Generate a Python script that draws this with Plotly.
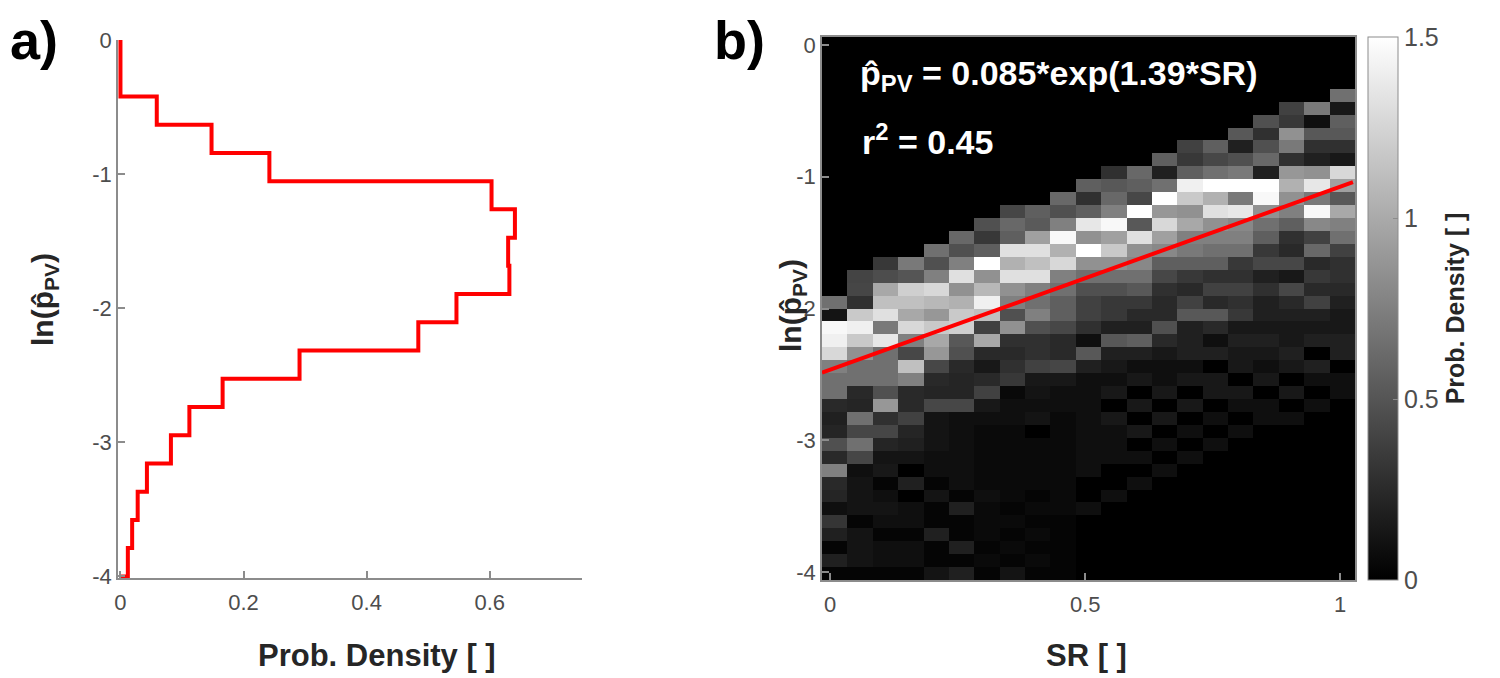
import numpy as np
import plotly.graph_objects as go

# ---------------- data: panel a (histogram of ln(p_PV)) ----------------
hist_edges = [0.0, -0.211, -0.421, -0.632, -0.842, -1.053, -1.263, -1.474, -1.684, -1.895,
              -2.105, -2.316, -2.526, -2.737, -2.947, -3.158, -3.368, -3.579, -3.789, -4.0]
hist_density = [0.0, 0.0, 0.059, 0.148, 0.242, 0.603, 0.641, 0.630, 0.632, 0.546,
                0.484, 0.291, 0.166, 0.112, 0.082, 0.043, 0.028, 0.019, 0.012]

# ---------------- data: panel b (2-D density) ----------------
sr_edges = np.linspace(-0.016, 1.029, 22)        # 21 SR bins
ln_edges = np.linspace(0.06, -4.06, 43)          # 42 ln(p) bins (top -> bottom)
sr_centers = 0.5 * (sr_edges[:-1] + sr_edges[1:])
ln_centers = 0.5 * (ln_edges[:-1] + ln_edges[1:])

density = [
    [0, 0, 0, 0, 0, 0, 0, 0, 0, 0, 0, 0, 0, 0, 0, 0, 0, 0, 0, 0, 0],
    [0, 0, 0, 0, 0, 0, 0, 0, 0, 0, 0, 0, 0, 0, 0, 0, 0, 0, 0, 0, 0],
    [0, 0, 0, 0, 0, 0, 0, 0, 0, 0, 0, 0, 0, 0, 0, 0, 0, 0, 0, 0, 0],
    [0, 0, 0, 0, 0, 0, 0, 0, 0, 0, 0, 0, 0, 0, 0, 0, 0, 0, 0, 0, 0],
    [0, 0, 0, 0, 0, 0, 0, 0, 0, 0, 0, 0, 0, 0, 0, 0, 0, 0, 0, 0, 0.66],
    [0, 0, 0, 0, 0, 0, 0, 0, 0, 0, 0, 0, 0, 0, 0, 0, 0, 0, 0.38, 0.71, 0.14],
    [0, 0, 0, 0, 0, 0, 0, 0, 0, 0, 0, 0, 0, 0, 0, 0, 0, 0.47, 0.33, 0.09, 0.56],
    [0, 0, 0, 0, 0, 0, 0, 0, 0, 0, 0, 0, 0, 0, 0, 0, 0.52, 0.28, 0.85, 0.52, 0.52],
    [0, 0, 0, 0, 0, 0, 0, 0, 0, 0, 0, 0, 0, 0, 0.38, 0.56, 0.19, 0.47, 0.71, 0.28, 0.28],
    [0, 0, 0, 0, 0, 0, 0, 0, 0, 0, 0, 0, 0, 0.56, 0.33, 0.42, 0.47, 0.61, 0.28, 0.19, 0.14],
    [0, 0, 0, 0, 0, 0, 0, 0, 0, 0, 0, 0.28, 0.61, 0.19, 0.56, 0.66, 0.71, 0.19, 0.89, 0.85, 1.27],
    [0, 0, 0, 0, 0, 0, 0, 0, 0, 0, 0.56, 0.52, 0.56, 0.66, 1.41, 1.5, 1.5, 1.5, 1.04, 1.36, 0.94],
    [0, 0, 0, 0, 0, 0, 0, 0, 0, 0.61, 0.28, 0.61, 0.42, 1.5, 1.18, 1.04, 0.71, 1.46, 0.85, 0.71, 0.52],
    [0, 0, 0, 0, 0, 0, 0, 0.41, 0.56, 0.47, 0.56, 0.75, 1.5, 0.89, 0.85, 1.32, 1.36, 0.85, 0.75, 1.46, 0.99],
    [0, 0, 0, 0, 0, 0, 0.47, 0.61, 0.53, 0.75, 1.36, 1.46, 0.52, 1.27, 0.99, 0.85, 0.8, 0.66, 0.56, 0.8, 0.75],
    [0, 0, 0, 0, 0, 0.61, 0.33, 0.56, 0.94, 1.46, 0.85, 0.94, 1.32, 0.94, 0.75, 0.75, 0.75, 0.56, 0.28, 0.38, 0.66],
    [0, 0, 0, 0, 0.66, 0.47, 0.56, 1.32, 1.32, 1.04, 1.5, 1.18, 0.85, 0.8, 0.71, 0.66, 0.66, 0.33, 0.24, 0.61, 0.38],
    [0, 0, 0.33, 0.71, 0.47, 0.75, 1.5, 1.04, 1.13, 1.27, 0.85, 0.85, 0.8, 0.56, 0.56, 0.56, 0.33, 0.42, 0.42, 0.24, 0.28],
    [0, 0.4, 0.45, 0.5, 0.75, 1.32, 0.85, 1.32, 1.32, 0.75, 0.66, 0.66, 0.66, 0.42, 0.33, 0.28, 0.28, 0.19, 0.14, 0.33, 0.28],
    [0, 0.41, 0.99, 1.22, 1.27, 0.85, 1.08, 0.85, 0.75, 0.66, 0.47, 0.47, 0.52, 0.28, 0.24, 0.38, 0.38, 0.28, 0.42, 0.24, 0.24],
    [0.66, 0.28, 1.13, 1.13, 1.08, 1.04, 1.41, 0.75, 0.66, 0.56, 0.38, 0.33, 0.33, 0.24, 0.38, 0.24, 0.28, 0.19, 0.24, 0.38, 0.19],
    [0.12, 1.18, 1.32, 0.99, 0.89, 1.18, 1.13, 0.47, 0.75, 0.56, 0.38, 0.33, 0.24, 0.24, 0.52, 0.52, 0.33, 0.19, 0.19, 0.19, 0.14],
    [1.46, 1.41, 0.71, 1.27, 1.18, 1.22, 0.38, 0.85, 0.47, 0.42, 0.28, 0.19, 0.19, 0.47, 0.19, 0.24, 0.14, 0.14, 0.14, 0.14, 0.14],
    [1.41, 1.18, 1.36, 0.75, 0.99, 0.52, 0.99, 0.28, 0.28, 0.24, 0.09, 0.52, 0.56, 0.24, 0.19, 0.09, 0.19, 0.19, 0.14, 0.19, 0.19],
    [1.27, 0.85, 0.66, 0.42, 0.89, 0.47, 0.24, 0.24, 0.28, 0.24, 0.52, 0.19, 0.19, 0.14, 0.19, 0.19, 0.14, 0.14, 0.19, 0.0, 0.19],
    [0.75, 0.66, 0.66, 1.13, 0.42, 0.24, 0.14, 0.28, 0.38, 0.41, 0.19, 0.14, 0.09, 0.09, 0.09, 0.0, 0.14, 0.09, 0.14, 0.19, 0.0],
    [0.66, 0.66, 0.66, 0.75, 0.24, 0.22, 0.24, 0.33, 0.14, 0.14, 0.09, 0.09, 0.14, 0.09, 0.14, 0.14, 0.0, 0.14, 0.0, 0.09, 0.09],
    [0.66, 0.24, 0.47, 0.24, 0.22, 0.22, 0.38, 0.05, 0.12, 0.09, 0.09, 0.14, 0.0, 0.14, 0.0, 0.14, 0.14, 0.0, 0.14, 0.0, 0.09],
    [0.24, 0.22, 0.89, 0.24, 0.42, 0.42, 0.14, 0.09, 0.09, 0.09, 0.09, 0.0, 0.14, 0.0, 0.14, 0.0, 0.09, 0.09, 0.0, 0.09, 0.0],
    [0.19, 0.66, 0.28, 0.38, 0.12, 0.09, 0.09, 0.09, 0.12, 0.06, 0.09, 0.14, 0.0, 0.14, 0.0, 0.09, 0.0, 0.09, 0.09, 0.0, 0.0],
    [0.22, 0.41, 0.41, 0.22, 0.12, 0.09, 0.06, 0.06, 0.0, 0.06, 0.09, 0.09, 0.14, 0.0, 0.09, 0.0, 0.09, 0.0, 0.0, 0.0, 0.0],
    [0.47, 0.66, 0.22, 0.19, 0.12, 0.09, 0.06, 0.06, 0.06, 0.06, 0.09, 0.09, 0.0, 0.09, 0.0, 0.09, 0.0, 0.0, 0.0, 0.0, 0.0],
    [0.24, 0.41, 0.12, 0.12, 0.09, 0.09, 0.06, 0.06, 0.06, 0.06, 0.09, 0.09, 0.09, 0.0, 0.09, 0.0, 0.0, 0.0, 0.0, 0.0, 0.0],
    [0.75, 0.09, 0.14, 0.0, 0.09, 0.09, 0.06, 0.06, 0.06, 0.06, 0.09, 0.0, 0.0, 0.09, 0.0, 0.0, 0.0, 0.0, 0.0, 0.0, 0.0],
    [0.24, 0.12, 0.03, 0.19, 0.03, 0.09, 0.06, 0.06, 0.06, 0.06, 0.0, 0.0, 0.09, 0.0, 0.0, 0.0, 0.0, 0.0, 0.0, 0.0, 0.0],
    [0.22, 0.12, 0.09, 0.0, 0.12, 0.03, 0.09, 0.06, 0.03, 0.06, 0.0, 0.09, 0.0, 0.0, 0.0, 0.0, 0.0, 0.0, 0.0, 0.0, 0.0],
    [0.09, 0.12, 0.12, 0.09, 0.03, 0.19, 0.06, 0.03, 0.06, 0.06, 0.09, 0.0, 0.0, 0.0, 0.0, 0.0, 0.0, 0.0, 0.0, 0.0, 0.0],
    [0.31, 0.03, 0.09, 0.09, 0.03, 0.03, 0.06, 0.06, 0.03, 0.03, 0.0, 0.0, 0.0, 0.0, 0.0, 0.0, 0.0, 0.0, 0.0, 0.0, 0.0],
    [0.19, 0.12, 0.03, 0.03, 0.19, 0.03, 0.06, 0.03, 0.06, 0.03, 0.0, 0.0, 0.0, 0.0, 0.0, 0.0, 0.0, 0.0, 0.0, 0.0, 0.0],
    [0.03, 0.12, 0.09, 0.09, 0.03, 0.19, 0.03, 0.06, 0.03, 0.03, 0.0, 0.0, 0.0, 0.0, 0.0, 0.0, 0.0, 0.0, 0.0, 0.0, 0.0],
    [0.19, 0.12, 0.09, 0.09, 0.03, 0.03, 0.06, 0.03, 0.06, 0.03, 0.0, 0.0, 0.0, 0.0, 0.0, 0.0, 0.0, 0.0, 0.0, 0.0, 0.0],
    [0.03, 0.03, 0.03, 0.03, 0.12, 0.19, 0.03, 0.12, 0.03, 0.03, 0.0, 0.0, 0.0, 0.0, 0.0, 0.0, 0.0, 0.0, 0.0, 0.0, 0.0],
]

# exponential fit p = a*exp(b*SR)  ->  ln p = ln a + b*SR
fit_a = 0.085
fit_b = 1.39
fit_sr = [-0.016, 1.025]
fit_ln = [float(np.log(fit_a) + fit_b * s) for s in fit_sr]

# ---------------- figure ----------------
W, H = 1500, 678
OFF = 8  # page body margin offset
FONT = "Liberation Sans, Arial, Helvetica, sans-serif"
AX = "#8c8c8c"
TICK = "#4d4d4d"
TITLE = "#262626"

def px(x):
    return (x - OFF) / W

def py(y):
    return (H - (y - OFF)) / H

fig = go.Figure()

# stairs for panel a
stair_x = hist_density + [0.0]
stair_y = hist_edges
fig.add_trace(go.Scatter(x=stair_x, y=stair_y, mode="lines", line_shape="vh",
                         line=dict(color="#ff0000", width=4),
                         xaxis="x", yaxis="y", hoverinfo="skip"))

# heatmap panel b
fig.add_trace(go.Heatmap(z=density, x=sr_centers, y=ln_centers,
                         colorscale=[[0, "#000000"], [1, "#ffffff"]],
                         zmin=0, zmax=1.5, zsmooth=False,
                         xaxis="x2", yaxis="y2",
                         colorbar=dict(x=px(1368), xanchor="left", xpad=0, ypad=0,
                                       y=0.5 * (py(580) + py(37)), yanchor="middle",
                                       len=py(37) - py(580), lenmode="fraction",
                                       thickness=30, outlinecolor=AX, outlinewidth=1,
                                       tickvals=[0, 0.5, 1, 1.5], ticktext=["0", "0.5", "1", "1.5"],
                                       ticks="inside", ticklen=5, tickcolor=AX,
                                       tickfont=dict(family=FONT, size=25, color=TICK),
                                       title=dict(text="<b>Prob. Density [ ]</b>", side="right",
                                                  font=dict(family=FONT, size=25, color=TITLE)))))

fig.add_trace(go.Scatter(x=fit_sr, y=fit_ln, mode="lines",
                         line=dict(color="#ff0000", width=4),
                         xaxis="x2", yaxis="y2", hoverinfo="skip"))

axis_common = dict(showline=True, linecolor=AX, linewidth=1.5, ticks="inside", ticklen=7,
                   tickcolor=AX, tickwidth=1.5, showgrid=False, zeroline=False, automargin=False,
                   tickfont=dict(family=FONT, size=22, color=TICK))

fig.update_layout(
    width=W, height=H, margin=dict(l=0, r=0, t=0, b=0, autoexpand=False),
    paper_bgcolor="white", plot_bgcolor="white", showlegend=False,
    xaxis=dict(domain=[px(118), px(582)], range=[-0.004, 0.75], anchor="y", ticklabelstandoff=4,
               tickvals=[0, 0.2, 0.4, 0.6], ticktext=["0", "0.2", "0.4", "0.6"], **axis_common),
    yaxis=dict(domain=[py(578), py(40)], range=[-4.012, 0.0], anchor="x",
               tickvals=[0, -1, -2, -3, -4], ticktext=["0", "-1", "-2", "-3", "-4"], **axis_common),
    xaxis2=dict(domain=[px(822), px(1355)], range=[-0.016, 1.029], anchor="y2", mirror=True,
                ticklabelstandoff=4,
                tickvals=[0, 0.5, 1], ticktext=["0", "0.5", "1"], **axis_common),
    yaxis2=dict(domain=[py(580), py(37)], range=[-4.06, 0.06], anchor="x2", mirror=True,
                tickvals=[0, -1, -2, -3, -4], ticktext=["0", "-1", "-2", "-3", "-4"], **axis_common),
)

ann = []
ann.append(dict(text="<b>a)</b>", x=px(OFF), y=py(40), xref="paper", yref="paper",
                xanchor="left", yanchor="middle", showarrow=False,
                font=dict(family=FONT, size=54, color="#000000")))
ann.append(dict(text="<b>b)</b>", x=px(712), y=py(40), xref="paper", yref="paper",
                xanchor="left", yanchor="middle", showarrow=False,
                font=dict(family=FONT, size=54, color="#000000")))
ann.append(dict(text="<b>ln(p\u0302<sub>PV</sub>)</b>", x=px(44), y=py(300), xref="paper", yref="paper",
                xanchor="center", yanchor="middle", textangle=-90, showarrow=False,
                font=dict(family=FONT, size=30, color=TITLE)))
ann.append(dict(text="<b>ln(p\u0302<sub>PV</sub>)</b>", x=px(792), y=py(305), xref="paper", yref="paper",
                xanchor="center", yanchor="middle", textangle=-90, showarrow=False,
                font=dict(family=FONT, size=30, color=TITLE)))
ann.append(dict(text="<b>Prob. Density [ ]</b>", x=px(377), y=py(655), xref="paper", yref="paper",
                xanchor="center", yanchor="middle", showarrow=False,
                font=dict(family=FONT, size=31, color=TITLE)))
ann.append(dict(text="<b>SR [ ]</b>", x=px(1086), y=py(655), xref="paper", yref="paper",
                xanchor="center", yanchor="middle", showarrow=False,
                font=dict(family=FONT, size=31, color=TITLE)))
ann.append(dict(text="<b>p\u0302<sub>PV</sub> = 0.085*exp(1.39*SR)</b>", x=px(858), y=py(76),
                xref="paper", yref="paper", xanchor="left", yanchor="middle", showarrow=False,
                font=dict(family=FONT, size=34, color="#ffffff")))
ann.append(dict(text="<b>r<sup>2</sup> = 0.45</b>", x=px(860), y=py(140),
                xref="paper", yref="paper", xanchor="left", yanchor="middle", showarrow=False,
                font=dict(family=FONT, size=34, color="#ffffff")))
fig.update_layout(annotations=ann)

fig.write_html("out.html")
